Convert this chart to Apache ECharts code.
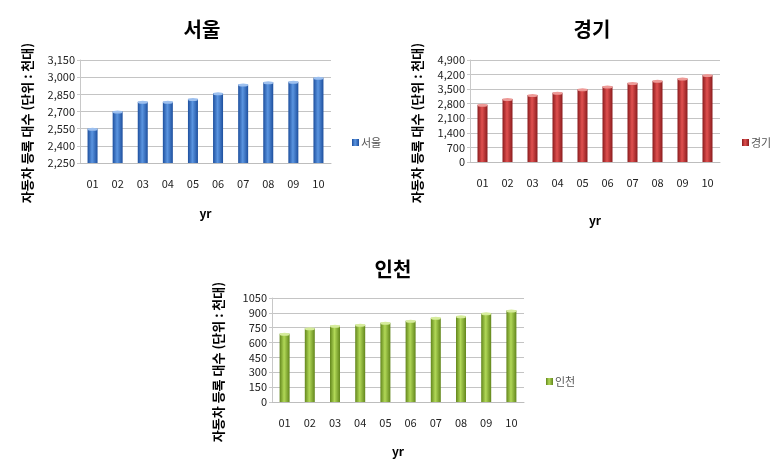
<!DOCTYPE html>
<html><head><meta charset="utf-8">
<script src="https://cdn.jsdelivr.net/npm/echarts@6/dist/echarts.min.js"></script>
<style>html,body{margin:0;padding:0;background:#fff}#c{width:782px;height:475px}</style>
</head><body><div id="c"></div>
<script>
const years = ['01','02','03','04','05','06','07','08','09','10'];
const seoul = [2550, 2700, 2785, 2785, 2810, 2860, 2935, 2955, 2960, 2995];
const gyeonggi = [2750, 3030, 3220, 3330, 3490, 3630, 3800, 3900, 4010, 4180];
const incheon = [690, 745, 770, 780, 800, 820, 850, 865, 895, 925];
const names = ['서울', '경기', '인천'];
const yTitle = '자동차 등록 대수 (단위 : 천대)';
const xTitle = 'yr';

const FONT = '"Noto Sans CJK KR", "Noto Sans", sans-serif';
const grids = [
  {left: 80, top: 60, width: 251, height: 103},
  {left: 470, top: 60, width: 250, height: 102},
  {left: 272, top: 298, width: 252, height: 104}
];
const yCfg = [
  {min: 2250, max: 3150, interval: 150, comma: true},
  {min: 0, max: 4900, interval: 700, comma: true},
  {min: 0, max: 1050, interval: 150, comma: false}
];
const pal = [
  {dark: '#1d4f9e', mid: '#5b95e0', cap: '#9dc0ef'},
  {dark: '#8a1b1d', mid: '#e0504f', cap: '#ee9a97'},
  {dark: '#62861c', mid: '#b1d857', cap: '#d6ec9c'}
];
const data = [seoul, gyeonggi, incheon];
function grad(p){
  return new echarts.graphic.LinearGradient(0,0,1,0,[
    {offset:0,color:p.dark},{offset:0.45,color:p.mid},{offset:1,color:p.dark}]);
}
const chart = echarts.init(document.getElementById('c'), null, {renderer:'canvas'});
const titleCenters = [[197, 14], [587, 14], [388, 254]];
const legendPos = [[347, 132], [737, 132], [541, 371]];
const yNamePos = [[27, 123], [417, 123], [218, 362]];
const xNameGap = [44, 52, 43];

const option = {
  animation: false,
  title: names.map((n,i)=>({text:n, left: titleCenters[i][0], top: titleCenters[i][1], textAlign:'center',
    textStyle:{fontFamily:FONT, fontSize:20, fontWeight:'bold', color:'#000'}})),
  legend: names.map((n,i)=>({data:[n], left: legendPos[i][0], top: legendPos[i][1], orient:'vertical',
    itemWidth:7, itemHeight:7, itemGap:4, icon:'rect',
    textStyle:{fontFamily:FONT, fontSize:11, color:'#555', padding:[0,0,0,-3]}})),
  grid: grids.map(g=>Object.assign({containLabel:false}, g)),
  xAxis: names.map((n,i)=>({type:'category', gridIndex:i, data: years,
    name: xTitle, nameLocation:'middle', nameGap: xNameGap[i],
    nameTextStyle:{fontFamily:FONT, fontSize:12, fontWeight:'bold', color:'#000'},
    axisLine:{lineStyle:{color:'#bdbdbd'}}, axisTick:{show:false},
    axisLabel:{fontFamily:FONT, fontSize:11, color:'#222', margin:15}})),
  yAxis: names.map((n,i)=>({type:'value', gridIndex:i, min:yCfg[i].min, max:yCfg[i].max, interval:yCfg[i].interval,
    axisLine:{show:true, lineStyle:{color:'#c8c8c8'}}, axisTick:{show:true, length:3, lineStyle:{color:'#c8c8c8'}},
    splitLine:{lineStyle:{color:'#c4c4c4'}},
    axisLabel:{fontFamily:FONT, fontSize:11, color:'#222', margin:5,
      formatter: v => yCfg[i].comma ? v.toLocaleString('en-US') : String(v)}})),
  series: [].concat(
    names.map((n,i)=>({type:'bar', name:n, xAxisIndex:i, yAxisIndex:i, data:data[i], barWidth:10,
      itemStyle:{color: grad(pal[i])}})),
    names.map((n,i)=>({type:'pictorialBar', name:n+'_cap', xAxisIndex:i, yAxisIndex:i, data:data[i],
      symbol:'circle', symbolSize:[10,3], symbolPosition:'end', symbolOffset:[0,-1], z:3,
      itemStyle:{color: pal[i].cap}}))
  ),
  graphic: yNamePos.map(p=>({type:'text', x:p[0], y:p[1], rotation:Math.PI/2,
    style:{text:yTitle, fontFamily:FONT, fontSize:13, fontWeight:'bold', fill:'#000', align:'center', verticalAlign:'middle'}}))
};
chart.setOption(option);
</script></body></html>
